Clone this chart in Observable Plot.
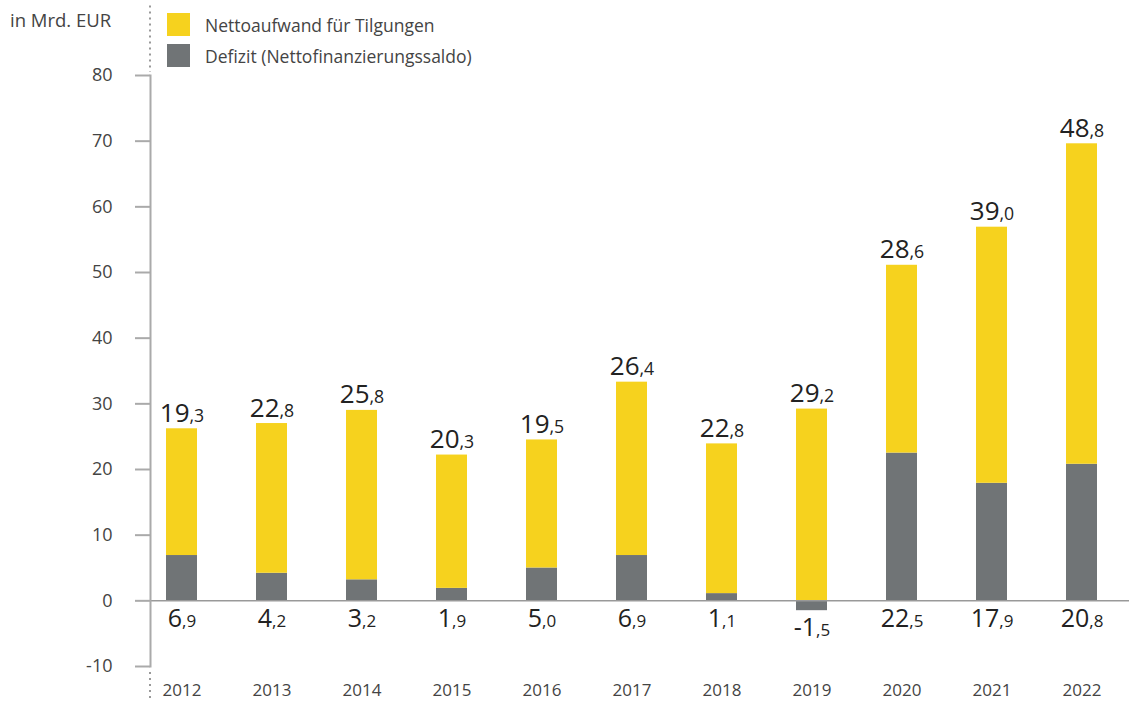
<!DOCTYPE html>
<html>
<head>
<meta charset="utf-8">
<script src="https://cdn.jsdelivr.net/npm/d3@7"></script>
<script src="https://cdn.jsdelivr.net/npm/@observablehq/plot@0.6"></script>
<style>
  body { margin: 0; background: #fff; font-family: "Open Sans", sans-serif; }
  #wrap { position: relative; width: 1129px; height: 702px; }
  .unit { position: absolute; left: 10px; top: 7px; font-size: 18.5px; color: #444; }
  .legend { position: absolute; left: 167px; top: 13px; font-size: 17.5px; color: #444; }
  .legend .item { display: flex; align-items: center; height: 23px; margin-bottom: 8px; }
  .legend .sw { width: 23px; height: 23px; margin-right: 15px; }
</style>
</head>
<body>
<div id="wrap">
  <div class="unit">in Mrd. EUR</div>
  <div class="legend">
    <div class="item"><div class="sw" style="background:#F6D21E"></div>Nettoaufwand für Tilgungen</div>
    <div class="item"><div class="sw" style="background:#707476"></div>Defizit (Nettofinanzierungssaldo)</div>
  </div>
</div>
<script>
const years = ["2012","2013","2014","2015","2016","2017","2018","2019","2020","2021","2022"];
const defizit = [6.9, 4.2, 3.2, 1.9, 5.0, 6.9, 1.1, -1.5, 22.5, 17.9, 20.8];
const tilgung = [19.3, 22.8, 25.8, 20.3, 19.5, 26.4, 22.8, 29.2, 28.6, 39.0, 48.8];
const yTicks = [-10, 0, 10, 20, 30, 40, 50, 60, 70, 80];
const seriesNames = ["Defizit", "Tilgung"];
const colors = ["#707476", "#F6D21E"];

const long = [];
years.forEach((y, i) => long.push({year: y, series: "Defizit", value: defizit[i]}));
years.forEach((y, i) => long.push({year: y, series: "Tilgung", value: tilgung[i]}));
const rows = years.map((y, i) => ({year: y, def: defizit[i], til: tilgung[i]}));

const fmt = v => v.toFixed(1).replace(".", ",");

function splitDecimals(index, scales, values, dimensions, context, next) {
  const g = next(index, scales, values, dimensions, context);
  d3.select(g).selectAll("text").each(function() {
    const t = this.textContent;
    const [a, b] = t.split(",");
    this.textContent = a;
    d3.select(this).append("tspan").attr("font-size", "0.68em").text("," + b);
  });
  return g;
}

function dottedAxis(index, scales, values, dims) {
  const g = d3.create("svg:g");
  const x = dims.marginLeft;
  g.append("line").attr("x1", x).attr("x2", x)
    .attr("y1", scales.y(90.6)).attr("y2", dims.marginTop - 3)
    .attr("stroke", "#999").attr("stroke-width", 2)
    .attr("stroke-dasharray", "2,4");
  g.append("line").attr("x1", x).attr("x2", x)
    .attr("y1", dims.height - dims.marginBottom + 6).attr("y2", dims.height)
    .attr("stroke", "#999").attr("stroke-width", 2)
    .attr("stroke-dasharray", "2,4");
  return g.node();
}

const chart = Plot.plot({
  width: 1129,
  height: 702,
  marginLeft: 150,
  marginRight: 0,
  marginTop: 75,
  marginBottom: 36,
  style: {fontFamily: "Open Sans, sans-serif", color: "#444", background: "transparent"},
  x: {domain: years, range: [135, 1127], paddingInner: 0.656, paddingOuter: 0.328, label: null},
  y: {domain: [-10, 80], label: null},
  color: {domain: seriesNames, range: colors},
  marks: [
    Plot.barY(long, {x: "year", y: "value", fill: "series", order: seriesNames}),
    Plot.ruleY([0], {stroke: "#999", strokeWidth: 1.5}),
    Plot.frame({anchor: "left", stroke: "#aaa", strokeWidth: 2}),
    dottedAxis,
    Plot.axisY({ticks: yTicks, tickSize: 15, tickPadding: 23, fontSize: 18, stroke: "#aaa", strokeWidth: 2, tickFormat: d => String(d), label: null}),
    Plot.axisX({tickSize: 0, tickPadding: 17, fontSize: 17, label: null}),
    Plot.text(rows, {x: "year", y: d => Math.max(0, d.def) + d.til, text: d => fmt(d.til), lineAnchor: "bottom", dy: -7, fontSize: 26, fill: "#222", render: splitDecimals}),
    Plot.text(rows, {x: "year", y: d => Math.min(0, d.def), text: d => fmt(d.def), lineAnchor: "top", dy: 8, fontSize: 25, fill: "#222", render: splitDecimals})
  ]
});
document.getElementById("wrap").prepend(chart);
</script>
</body>
</html>
